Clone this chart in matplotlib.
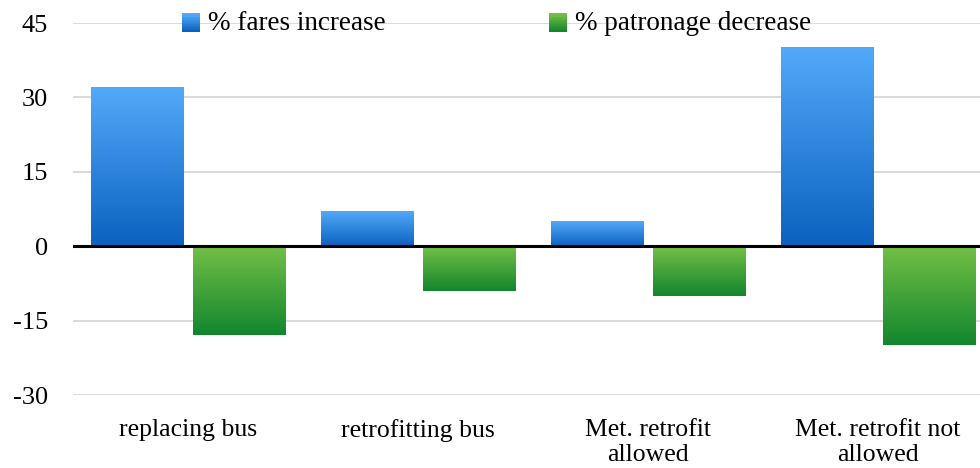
import numpy as np
import matplotlib
matplotlib.use("Agg")
import matplotlib.pyplot as plt
from matplotlib.patches import Rectangle
from matplotlib.legend_handler import HandlerBase
from matplotlib.colors import LinearSegmentedColormap

categories = ["replacing bus", "retrofitting bus", "Met. retrofit\nallowed", "Met. retrofit not\nallowed"]
fares_increase = [32, 7, 5, 40]
patronage_decrease = [-18, -9, -10, -20]
series_names = ["% fares increase", "% patronage decrease"]
y_ticks = [-30, -15, 0, 15, 30, 45]

blue = ("#0B62BF", "#53A9F9")   # bottom, top
green = ("#12862E", "#74C046")

plt.rcParams['font.family'] = ['Liberation Serif', 'DejaVu Serif']
plt.rcParams['axes.unicode_minus'] = False

fig = plt.figure(figsize=(9.8, 4.68), dpi=100)
ax = fig.add_axes([73/980, 1-395/468, 920/980, (395-23)/468])

x = np.arange(len(categories))
w = 0.404
off = 0.2217

def gradient_bars(xs, vals, cols):
    bars = ax.bar(xs, vals, width=w, color="none", edgecolor="none", zorder=2)
    cmap = LinearSegmentedColormap.from_list("g", list(cols))
    grad = np.linspace(0, 1, 256).reshape(-1, 1)
    for b in bars:
        x0, y0 = b.get_x(), b.get_y()
        x1, y1 = x0 + b.get_width(), y0 + b.get_height()
        lo, hi = min(y0, y1), max(y0, y1)
        ax.imshow(grad, cmap=cmap, origin="lower", aspect="auto",
                  extent=(x0, x1, lo, hi), zorder=2)
    return bars

gradient_bars(x - off, fares_increase, blue)
gradient_bars(x + off, patronage_decrease, green)

ax.set_xlim(-0.5, len(categories) - 0.5)
ax.set_ylim(-30, 45)
ax.set_yticks(y_ticks)
ax.set_xticks(x)
ax.set_xticklabels(categories, fontsize=18.5, linespacing=1.2)
ax.tick_params(axis="y", labelsize=19, length=0, pad=18)
ax.tick_params(axis="x", length=0, pad=17)
ax.grid(axis="y", color="#D4D4D4", linewidth=1.2, zorder=0)
ax.set_axisbelow(True)
for s in ax.spines.values():
    s.set_visible(False)
ax.axhline(0, color="black", linewidth=2.2, zorder=3)


class GradHandler(HandlerBase):
    def __init__(self, cols):
        super().__init__()
        self.cols = cols

    def create_artists(self, legend, orig_handle, xdescent, ydescent,
                       width, height, fontsize, trans):
        cmap = LinearSegmentedColormap.from_list("g", list(self.cols))
        n = 12
        side = height * 0.95
        x0 = -xdescent + (width - side)
        arts = []
        for i in range(n):
            r = Rectangle((x0, -ydescent + side * i / n - 1), side, side / n + 0.3,
                          facecolor=cmap(i / (n - 1)), edgecolor="none", transform=trans)
            arts.append(r)
        return arts


h1 = Rectangle((0, 0), 1, 1)
h2 = Rectangle((0, 0), 1, 1)
leg = fig.legend([h1, h2], series_names, loc="center", bbox_to_anchor=(0.506, 1-24/468),
                 ncol=2, frameon=False, fontsize=19.5, handlelength=0.7, handletextpad=0.3,
                 columnspacing=6.0,
                 handler_map={h1: GradHandler(blue), h2: GradHandler(green)})

fig.savefig("out.png", dpi=100)
